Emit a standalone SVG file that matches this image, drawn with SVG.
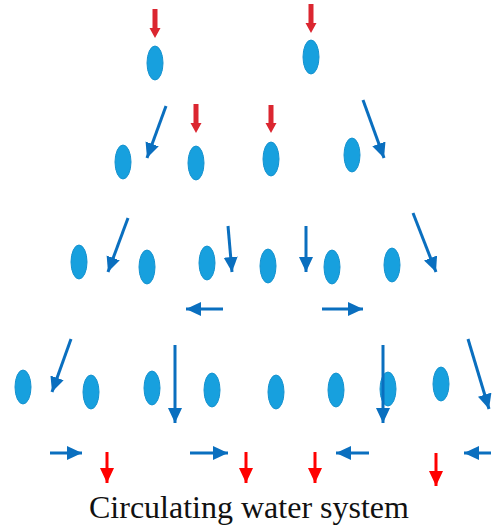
<svg xmlns="http://www.w3.org/2000/svg" width="492" height="527" viewBox="0 0 492 527">
<style>
.n{fill:#17A0DE;stroke:#1592CF;stroke-width:1}
.b{stroke:#0A6FBF;stroke-width:3;fill:none;marker-end:url(#hb)}
.r{stroke:#FF0000;stroke-width:3;fill:none;marker-end:url(#hr)}
.rt{fill:#DB2630}
.t{font-family:"Liberation Serif","Times New Roman",serif;font-size:32px;fill:#111}
</style>
<defs>
<marker id="hb" markerUnits="userSpaceOnUse" markerWidth="16" markerHeight="16" viewBox="0 0 16 16" refX="15" refY="7" orient="auto">
<path d="M0,0 L15,7 L0,14 z" fill="#0A6FBF"/>
</marker>
<marker id="hr" markerUnits="userSpaceOnUse" markerWidth="16" markerHeight="16" viewBox="0 0 16 16" refX="15" refY="7" orient="auto">
<path d="M0,0 L15,7 L0,14 z" fill="#FF0000"/>
</marker>
</defs>
<rect width="492" height="527" fill="#fff"/>
<g id="nodes">
<g id="n1"><ellipse class="n" cx="155" cy="63" rx="8" ry="17"/></g>
<g id="n2"><ellipse class="n" cx="311" cy="57" rx="8" ry="17"/></g>
<g id="n3"><ellipse class="n" cx="123" cy="162" rx="8" ry="17"/></g>
<g id="n4"><ellipse class="n" cx="196" cy="163" rx="8" ry="17"/></g>
<g id="n5"><ellipse class="n" cx="271" cy="159" rx="8" ry="17"/></g>
<g id="n6"><ellipse class="n" cx="352" cy="155" rx="8" ry="17"/></g>
<g id="n7"><ellipse class="n" cx="79" cy="262" rx="8" ry="17"/></g>
<g id="n8"><ellipse class="n" cx="147" cy="267" rx="8" ry="17"/></g>
<g id="n9"><ellipse class="n" cx="207" cy="263" rx="8" ry="17"/></g>
<g id="n10"><ellipse class="n" cx="268" cy="266" rx="8" ry="17"/></g>
<g id="n11"><ellipse class="n" cx="332" cy="267" rx="8" ry="17"/></g>
<g id="n12"><ellipse class="n" cx="392" cy="265" rx="8" ry="17"/></g>
<g id="n13"><ellipse class="n" cx="23" cy="387" rx="8" ry="17"/></g>
<g id="n14"><ellipse class="n" cx="91" cy="392" rx="8" ry="17"/></g>
<g id="n15"><ellipse class="n" cx="152" cy="388" rx="8" ry="17"/></g>
<g id="n16"><ellipse class="n" cx="212" cy="390" rx="8" ry="17"/></g>
<g id="n17"><ellipse class="n" cx="276" cy="392" rx="8" ry="17"/></g>
<g id="n18"><ellipse class="n" cx="336" cy="390" rx="8" ry="17"/></g>
<g id="n19"><ellipse class="n" cx="388" cy="389" rx="8" ry="17"/></g>
<g id="n20"><ellipse class="n" cx="441" cy="384" rx="8" ry="17"/></g>
</g>
<g id="connectors">
<polygon class="rt" points="152.5,9 157.5,9 157.5,28 160.5,28 155,38 149.5,28 152.5,28"/>
<polygon class="rt" points="308.5,4 313.5,4 313.5,23 316.5,23 311,33 305.5,23 308.5,23"/>
<polygon class="rt" points="193.5,104 198.5,104 198.5,123 201.5,123 196,133 190.5,123 193.5,123"/>
<polygon class="rt" points="268.5,105 273.5,105 273.5,123 276.5,123 271,133 265.5,123 268.5,123"/>
<line class="b" x1="166" y1="106" x2="147" y2="158"/>
<line class="b" x1="363" y1="100" x2="384" y2="158"/>
<line class="b" x1="128" y1="218" x2="108" y2="272"/>
<line class="b" x1="228" y1="226" x2="232" y2="272"/>
<line class="b" x1="306" y1="226" x2="306" y2="272"/>
<line class="b" x1="413" y1="213" x2="436" y2="272"/>
<line class="b" x1="223" y1="309" x2="186" y2="309"/>
<line class="b" x1="322" y1="309" x2="363" y2="309"/>
<line class="b" x1="71" y1="339" x2="52" y2="392"/>
<line class="b" x1="175" y1="345" x2="175" y2="423"/>
<line class="b" x1="383" y1="345" x2="383" y2="423"/>
<line class="b" x1="468" y1="339" x2="489" y2="409"/>
<line class="b" x1="50" y1="453" x2="82" y2="453"/>
<line class="b" x1="190" y1="453" x2="228" y2="453"/>
<line class="b" x1="369" y1="453" x2="336" y2="453"/>
<line class="b" x1="491" y1="453" x2="464" y2="453"/>
<line class="r" x1="107" y1="452" x2="107" y2="483"/>
<line class="r" x1="246" y1="452" x2="246" y2="483"/>
<line class="r" x1="315" y1="452" x2="315" y2="483"/>
<line class="r" x1="436" y1="453" x2="436" y2="486"/>
</g>
<text class="t" x="89" y="518">Circulating water system</text>
</svg>
